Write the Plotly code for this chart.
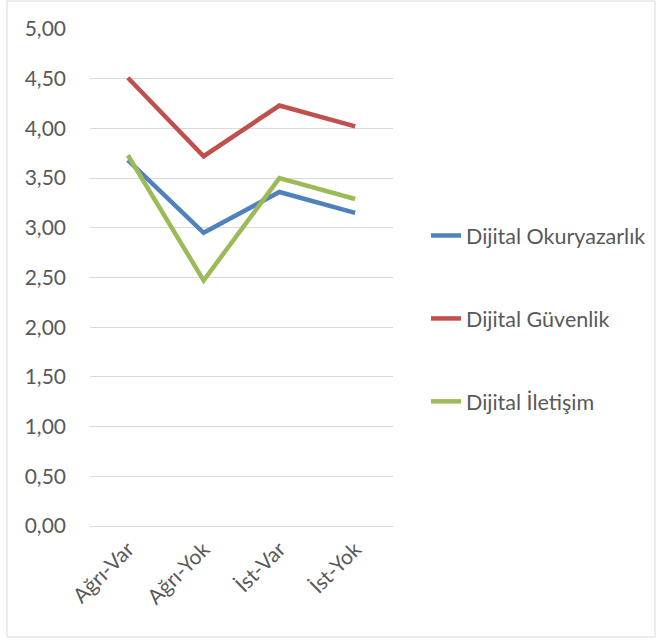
import plotly.graph_objects as go

categories = ["Ağrı-Var", "Ağrı-Yok", "İst-Var", "İst-Yok"]
okuryazarlik = [3.68, 2.95, 3.36, 3.15]
guvenlik = [4.51, 3.72, 4.23, 4.02]
iletisim = [3.73, 2.47, 3.50, 3.29]
series_names = ["Dijital Okuryazarlık", "Dijital Güvenlik", "Dijital İletişim"]
colors = ["#4f81bd", "#c0504d", "#9bbb59"]
y_ticks = [0, 0.5, 1, 1.5, 2, 2.5, 3, 3.5, 4, 4.5, 5]

W, H = 659, 641
L, R, T, B = 90, 266, 29, 115
pw, ph = W - L - R, H - T - B

fig = go.Figure()
for i, (name, vals) in enumerate(zip(series_names, [okuryazarlik, guvenlik, iletisim])):
    fig.add_trace(go.Scatter(
        x=categories, y=vals, name=name, mode="lines",
        line=dict(color=colors[i], width=4.5),
        legendgroup=f"g{i}",
    ))

font_family = "Lato, 'Open Sans', sans-serif"
fs = 21
fig.update_layout(
    width=W, height=H,
    margin=dict(l=L, r=R, t=T, b=B, autoexpand=False),
    paper_bgcolor="white", plot_bgcolor="white",
    separators=",.",
    font=dict(family=font_family, size=fs, color="#595959"),
    showlegend=True,
    legend=dict(
        x=(426 - L) / pw, xanchor="left",
        y=1 - (215 - T) / ph, yanchor="top",
        tracegroupgap=52,
        font=dict(size=21.5, color="#595959"),
        bgcolor="rgba(0,0,0,0)",
    ),
    xaxis=dict(
        type="category", range=[-0.5, 3.5],
        showgrid=False, showline=False, ticks="",
        tickangle=-45, tickfont=dict(size=fs, color="#595959"),
        ticklabelstandoff=6, automargin=False,
    ),
    yaxis=dict(
        range=[0, 5], tickvals=y_ticks, tickformat=".2f",
        showgrid=True, gridcolor="#d9d9d9", gridwidth=1,
        zeroline=True, zerolinecolor="#d9d9d9", zerolinewidth=1,
        showline=False, ticks="", ticklabelstandoff=23,
        tickfont=dict(size=fs, color="#595959"), automargin=False,
    ),
)

fig.add_shape(
    type="rect", xref="paper", yref="paper",
    x0=(7 - L) / pw, x1=(655 - L) / pw,
    y0=1 - (637 - T) / ph, y1=1 - (1 - T) / ph,
    line=dict(color="#d9d9d9", width=1), fillcolor="rgba(0,0,0,0)",
    layer="below",
)

fig.write_html(
    "out.html",
    config={"displayModeBar": False},
    post_script="document.body.style.margin='0';document.body.style.overflow='hidden';",
)
